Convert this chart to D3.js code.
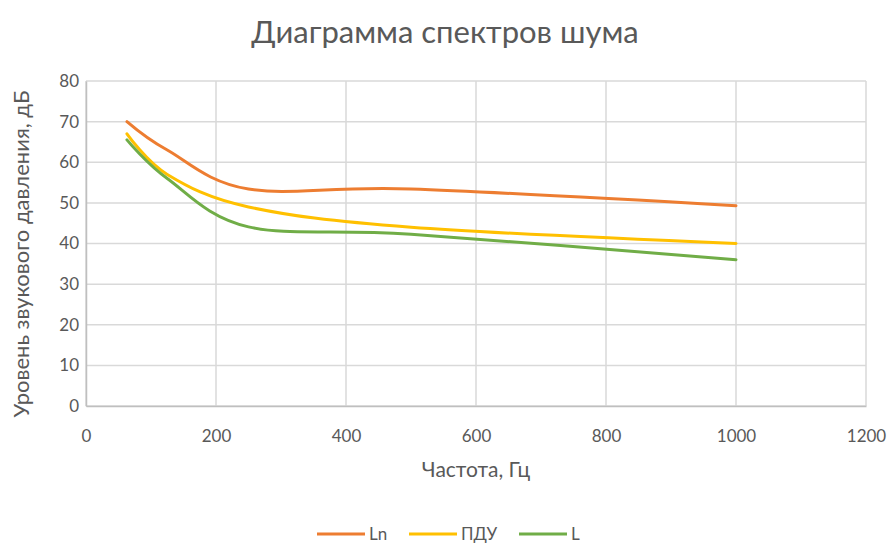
<!DOCTYPE html>
<html>
<head>
<meta charset="utf-8">
<script src="https://cdn.jsdelivr.net/npm/d3@7"></script>
<style>
  body { margin: 0; background: #fff; }
  svg { display: block; }
  text { font-family: Lato, "Open Sans", sans-serif; fill: #595959; }
</style>
</head>
<body>
<svg id="chart" width="890" height="544"></svg>
<script>
const frequencies = [63, 125, 250, 500, 1000];
const seriesNames = ["Ln", "ПДУ", "L"];
const lnValues = [70, 63, 53.4, 53.4, 49.3];
const pduValues = [67, 57, 49, 44, 40];
const lValues = [65.5, 56, 44.1, 42.3, 36];
const xTicks = [0, 200, 400, 600, 800, 1000, 1200];
const yTicks = [0, 10, 20, 30, 40, 50, 60, 70, 80];
const colors = ["#ED7D31", "#FFC000", "#70AD47"];
const titleText = "Диаграмма спектров шума";
const xTitle = "Частота, Гц";
const yTitle = "Уровень звукового давления, дБ";

const series = [lnValues, pduValues, lValues].map((vals, i) => ({
  name: seriesNames[i],
  color: colors[i],
  points: frequencies.map((f, j) => ({ x: f, y: vals[j] }))
}));

const svg = d3.select("#chart");

const x = d3.scaleLinear().domain([0, 1200]).range([86, 866]);
const y = d3.scaleLinear().domain([0, 80]).range([406, 81]);

// gridlines
const grid = svg.append("g");
grid.selectAll("line.h").data(yTicks).join("line")
  .attr("x1", x(0)).attr("x2", x(1200))
  .attr("y1", d => y(d)).attr("y2", d => y(d))
  .attr("stroke", "#d9d9d9").attr("stroke-width", 1.5);
grid.selectAll("line.v").data(xTicks).join("line")
  .attr("y1", y(0)).attr("y2", y(80))
  .attr("x1", d => x(d)).attr("x2", d => x(d))
  .attr("stroke", "#d9d9d9").attr("stroke-width", 1.5);

// axes
const xAxis = d3.axisBottom(x).tickValues(xTicks).tickSize(0).tickPadding(24).tickFormat(d3.format("d"));
const yAxis = d3.axisLeft(y).tickValues(yTicks).tickSize(0).tickPadding(7);
const gx = svg.append("g").attr("transform", `translate(0,${y(0)})`).call(xAxis);
const gy = svg.append("g").attr("transform", `translate(${x(0)},0)`).call(yAxis);
[gx, gy].forEach(g => {
  g.select(".domain").attr("stroke", "#bfbfbf").attr("stroke-width", 1.5);
  g.selectAll("text").style("font-size", "17px").attr("fill", "#595959");
});
gx.selectAll("text").attr("dy", "0.71em");

// lines
const line = d3.line().x(d => x(d.x)).y(d => y(d.y)).curve(d3.curveCatmullRom.alpha(0));
svg.append("g").selectAll("path").data(series).join("path")
  .attr("d", d => line(d.points))
  .attr("fill", "none")
  .attr("stroke", d => d.color)
  .attr("stroke-width", 3)
  .attr("stroke-linecap", "round");

// titles
svg.append("text").attr("x", 445).attr("y", 43).attr("text-anchor", "middle")
  .style("font-size", "31px").text(titleText);
svg.append("text").attr("x", 476).attr("y", 477).attr("text-anchor", "middle")
  .style("font-size", "21px").text(xTitle);
svg.append("text").attr("transform", `translate(29,254) rotate(-90)`).attr("text-anchor", "middle")
  .style("font-size", "22px").text(yTitle);

// legend
const legendX = [317, 409, 519];
const lg = svg.append("g").selectAll("g").data(series).join("g")
  .attr("transform", (d, i) => `translate(${legendX[i]},534)`);
lg.append("line").attr("x1", 0).attr("x2", 48).attr("y1", 0).attr("y2", 0)
  .attr("stroke", d => d.color).attr("stroke-width", 3);
lg.append("text").attr("x", 52).attr("y", 0).attr("dy", "0.33em")
  .style("font-size", "17px").text(d => d.name);
</script>
</body>
</html>
